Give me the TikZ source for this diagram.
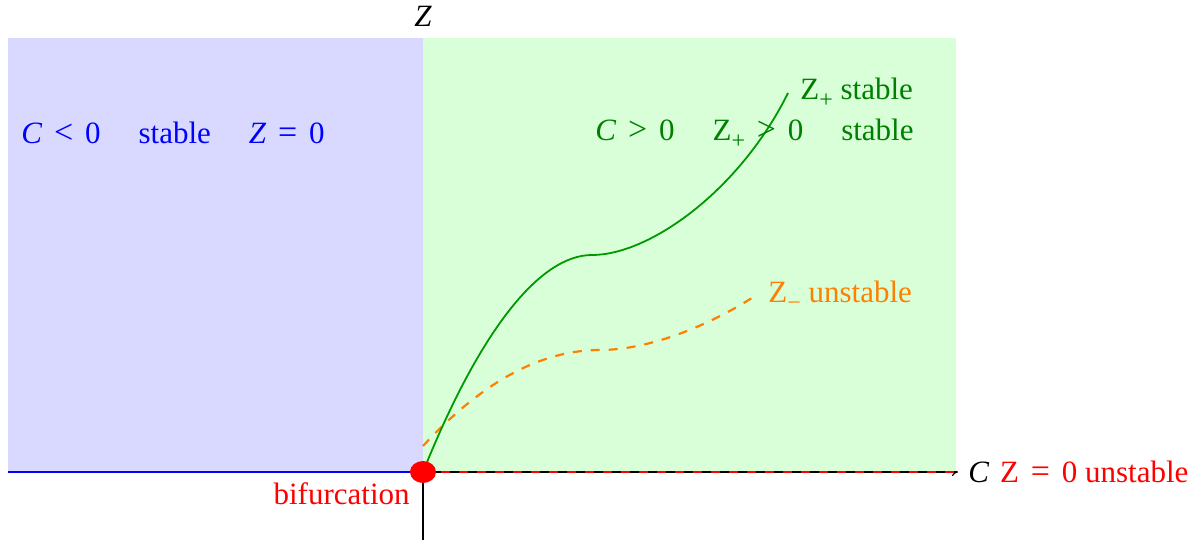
\documentclass[tikz,border=0pt]{standalone}
\usepackage{fontspec}
\setmainfont{Liberation Serif}
\usetikzlibrary{arrows.meta, positioning, shapes.geometric}
\newcommand{\rel}[1]{\hspace{0.38em}{\fontsize{17}{18}\selectfont#1}\hspace{0.38em}}
\newcommand{\idx}[1]{\raisebox{-0.55ex}{\fontsize{12}{13}\selectfont#1}}

\begin{document}
\begin{tikzpicture}[
x=0.5pt, y=-0.5pt,
lab/.style={inner sep=0pt, font=\fontsize{15.5}{18}\selectfont},
axis/.style={-{To[length=3pt,width=4pt]}, line width=0.6pt},
plusbranch/.style={line width=0.9pt, green!60!black},
minusbranch/.style={line width=1.1pt, orange, dash pattern=on 4.5pt off 4.5pt},
zerobranch/.style={line width=1.2pt, red, dash pattern=on 4.5pt off 4.5pt}
]
\useasboundingbox (0,0) rectangle (1199,544);
\coordinate (O) at (423,472);
\coordinate (zbot) at (423,540);
\coordinate (ztop) at (423,38);
\coordinate (cleft) at (8,472);
\coordinate (cright) at (958,472);
\coordinate (cfill) at (956,472);

% axes
\draw[line width=0.7pt] (zbot) -- (ztop);
\node[lab, above=5.5pt of ztop] (zlab) {\textit{Z}};
\draw[axis] (cleft) -- (cright);
\node[lab, right=5pt of cright] (clab) {\textit{C}};

% regions
\fill[blue!15] (8,38) rectangle (O);
\fill[green!15] (ztop) rectangle (cfill);

% branches
\draw[line width=1.2pt, blue] (cleft) -- (O);
\draw[line width=0.5pt] (O) -- (cfill);
\draw[zerobranch] (O) -- (cfill);
\draw[minusbranch] (423,446) .. controls (470,395) and (530,350) .. (600,350)
  .. controls (650,350) and (710,325) .. (755,296);
\draw[plusbranch] (O) .. controls (480,330) and (540,255) .. (592,255)
  .. controls (650,255) and (740,190) .. (788,93);
\node[ellipse, fill=red, minimum width=13pt, minimum height=11pt, inner sep=0pt] (bifpt) at (O) {};

% labels
\node[lab, blue, anchor=base west] (left) at (21,144)
  {\textit{C}\rel{<}0\hspace{19pt}stable\hspace{19pt}\textit{Z}\rel{=}0};
\node[lab, green!50!black, anchor=base west] (right) at (595,141)
  {\textit{C}\rel{>}0\hspace{19pt}Z\idx{+}\rel{>}0\hspace{19pt}stable};
\node[lab, green!50!black, anchor=base west] (plus) at (800,100) {Z\idx{+} stable};
\node[lab, orange, anchor=base west] (minus) at (768,303) {Z\idx{−} unstable};
\node[lab, red, right=5pt of clab] (zero) {Z\rel{=}0 unstable};
\node[lab, red, anchor=base east] (bif) at (410,505) {bifurcation};
\end{tikzpicture}
\end{document}
